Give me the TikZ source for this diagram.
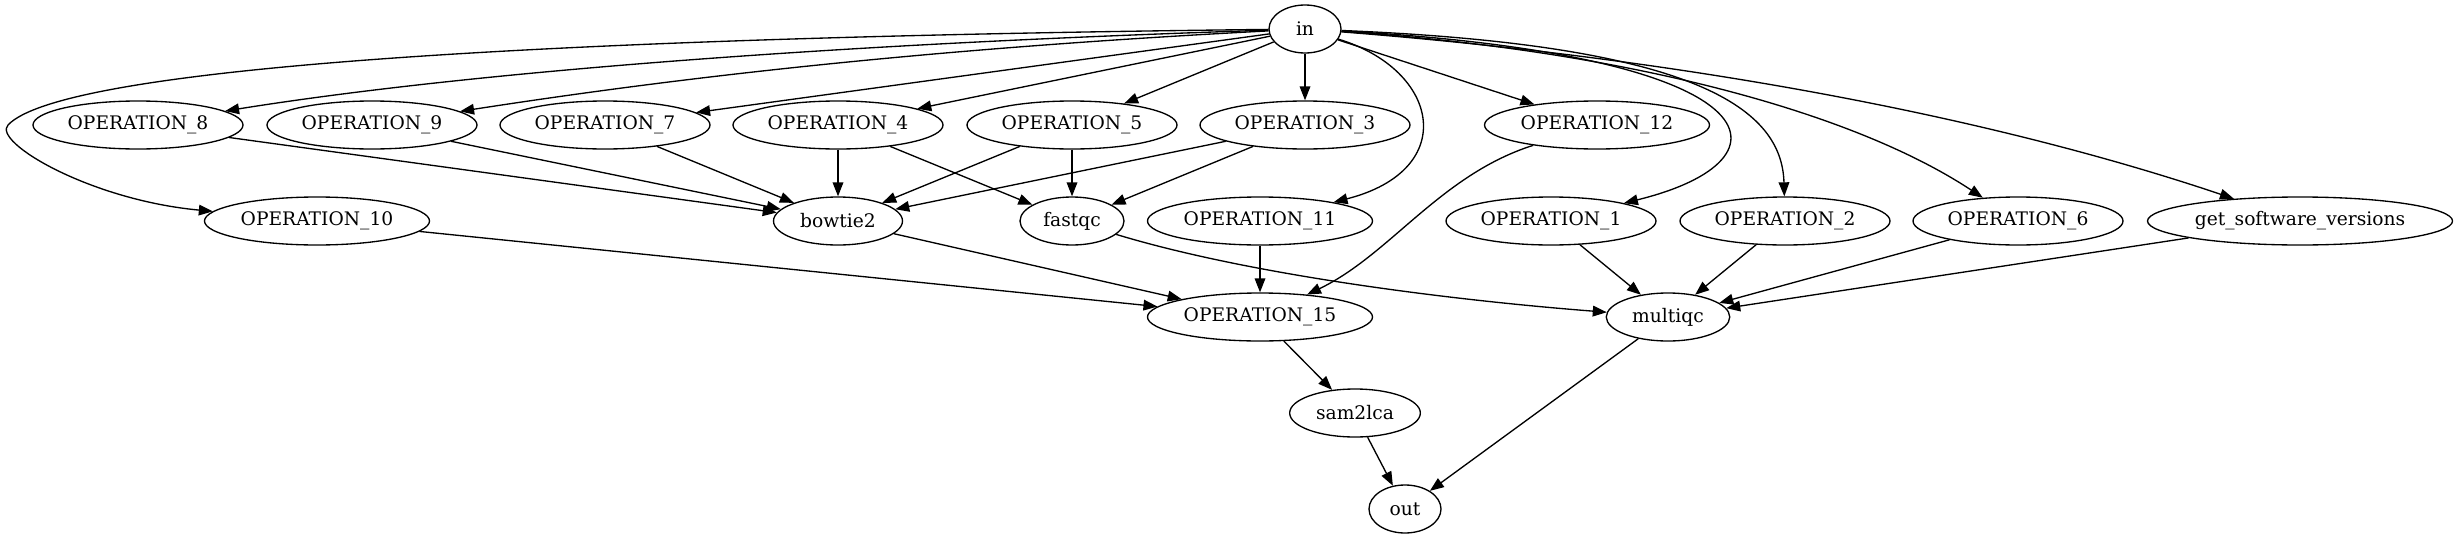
\documentclass[tikz,border=0pt]{standalone}
\usepackage{fontspec}
\setmainfont{DejaVu Serif}
\usepackage{tikz}
\usetikzlibrary{arrows.meta, shapes.geometric}

\begin{document}
\begin{tikzpicture}[x=0.75pt, y=-0.75pt, line width=1pt,
  font=\fontsize{14}{17}\selectfont,
  op/.style={ellipse, draw, inner sep=0pt, minimum height=36pt,
    minimum width=157.5pt},
  opw/.style={op, minimum width=168.75pt},
  arr/.style={-{Triangle[length=10.5pt, width=8pt]}}]
\useasboundingbox (0,0) rectangle (2458,539);
% ---------------- nodes ----------------
\node[op, minimum width=54pt] (in) at (1305,29) {in};
% first row
\node[op] (op8) at (138,125) {OPERATION\_8};
\node[op] (op9) at (372,125) {OPERATION\_9};
\node[op] (op7) at (605,125) {OPERATION\_7};
\node[op] (op4) at (838,125) {OPERATION\_4};
\node[op] (op5) at (1072,125) {OPERATION\_5};
\node[op] (op3) at (1305,125) {OPERATION\_3};
\node[opw] (op12) at (1597,125) {OPERATION\_12};
% second row
\node[opw] (op10) at (317,221) {OPERATION\_10};
\node[op, minimum width=96.75pt] (bt2) at (838,221) {bowtie2};
\node[op, minimum width=78pt] (fqc) at (1072,221) {fastqc};
\node[opw] (op11) at (1260,221) {OPERATION\_11};
\node[op] (op1) at (1551,221) {OPERATION\_1};
\node[op] (op2) at (1785,221) {OPERATION\_2};
\node[op] (op6) at (2018,221) {OPERATION\_6};
\node[op, minimum width=228.75pt] (gsv) at (2300,221) {get\_software\_versions};
% lower rows
\node[opw] (op15) at (1260,317) {OPERATION\_15};
\node[op, minimum width=92.6pt] (mqc) at (1668,317) {multiqc};
\node[op, minimum width=98pt] (s2l) at (1355,413) {sam2lca};
\node[op, minimum width=54pt] (out) at (1405,509) {out};
\coordinate (lft) at (8,125);  % turn of the long edge to OPERATION_10
% ---------------- edges from in ----------------
\draw[arr] (in) .. controls (500,38) and (60,70) .. (lft)
  .. controls (-8,142) and (90,200) .. (op10);
\draw[arr] (in) .. controls (800,45) and (450,75) .. (op8);
\draw[arr] (in) .. controls (900,50) and (650,82) .. (op9);
\draw[arr] (in) -- (op7);
\draw[arr] (in) -- (op4);
\draw[arr] (in) -- (op5);
\draw[arr] (in) -- (op3);
\draw[arr] (in) -- (op12);
\draw[arr] (in) .. controls (1440,70) and (1460,170) .. (op11);
\draw[arr] (in) .. controls (1780,55) and (1800,160) .. (op1);
\draw[arr] (in) .. controls (1700,45) and (1782,110) .. (op2);
\draw[arr] (in) .. controls (1620,50) and (1850,110) .. (op6);
\draw[arr] (in) .. controls (1700,60) and (2000,120) .. (gsv);
% ---------------- into bowtie2 / fastqc ----------------
\foreach \s in {op8,op9,op7,op4,op5,op3}
  \draw[arr] (\s) -- (bt2);
\foreach \s in {op4,op5,op3}
  \draw[arr] (\s) -- (fqc);
% ---------------- into OPERATION_15 / multiqc ----------------
\draw[arr] (op10) -- (op15);
\draw[arr] (bt2) -- (op15);
\draw[arr] (op11) -- (op15);
\draw[arr] (op12) .. controls (1440,175) and (1390,255) .. (op15);
\draw[arr] (fqc) .. controls (1250,275) and (1450,300) .. (mqc);
\foreach \s in {op1,op2,op6,gsv}
  \draw[arr] (\s) -- (mqc);
% ---------------- to out ----------------
\draw[arr] (op15) -- (s2l);
\draw[arr] (s2l) -- (out);
\draw[arr] (mqc) -- (out);
\end{tikzpicture}
\end{document}
